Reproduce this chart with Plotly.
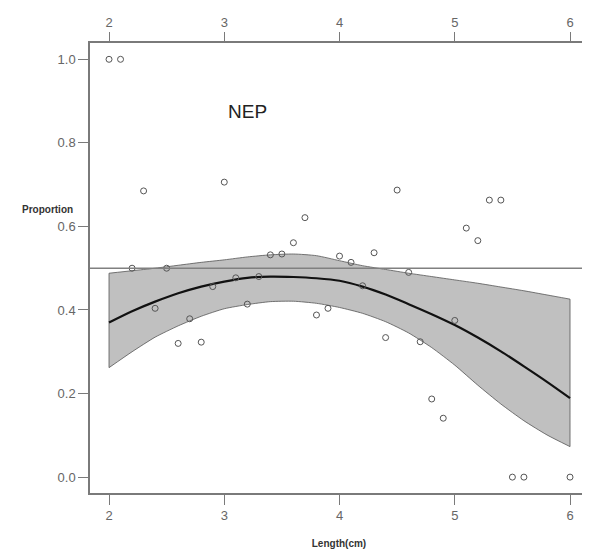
import plotly.graph_objects as go

# Observed proportions
length_obs = [2.0, 2.1, 2.2, 2.3, 2.4, 2.5, 2.6, 2.7, 2.8, 2.9, 3.0, 3.1, 3.2, 3.3, 3.4, 3.5, 3.6, 3.7, 3.8,
              3.9, 4.0, 4.1, 4.2, 4.3, 4.4, 4.5, 4.6, 4.7, 4.8, 4.9, 5.0, 5.1, 5.2, 5.3, 5.4, 5.5, 5.6, 6.0]
prop_obs = [1.0, 1.0, 0.5, 0.685, 0.404, 0.5, 0.32, 0.379, 0.323, 0.456, 0.706, 0.477, 0.414, 0.48, 0.532,
            0.534, 0.561, 0.621, 0.388, 0.404, 0.529, 0.514, 0.458, 0.537, 0.334, 0.687, 0.49, 0.324, 0.187,
            0.141, 0.375, 0.596, 0.566, 0.663, 0.663, 0.0, 0.0, 0.0]

# Fitted curve and confidence band
length_fit = [2.0, 2.2, 2.4, 2.6, 2.8, 3.0, 3.2, 3.4, 3.6, 3.8, 4.0, 4.2, 4.4, 4.6, 4.8, 5.0, 5.2, 5.4, 5.6, 5.8, 6.0]
fit = [0.37, 0.397, 0.42, 0.44, 0.456, 0.468, 0.477, 0.48, 0.479, 0.476, 0.47, 0.456, 0.437, 0.414, 0.39,
       0.364, 0.334, 0.301, 0.265, 0.228, 0.189]
upper = [0.488, 0.494, 0.5, 0.507, 0.514, 0.52, 0.527, 0.532, 0.534, 0.53, 0.518, 0.506, 0.497, 0.488, 0.48,
         0.472, 0.464, 0.455, 0.446, 0.436, 0.426]
lower = [0.262, 0.3, 0.335, 0.362, 0.385, 0.403, 0.413, 0.42, 0.421, 0.416, 0.406, 0.392, 0.372, 0.345, 0.31,
         0.268, 0.22, 0.175, 0.135, 0.101, 0.073]

x_ticks = [2, 3, 4, 5, 6]
y_ticks = [0.0, 0.2, 0.4, 0.6, 0.8, 1.0]
y_tick_labels = ["0.0", "0.2", "0.4", "0.6", "0.8", "1.0"]
ref_level = 0.5

axis_color = "#7a7a7a"
tick_font = dict(family="Liberation Sans Narrow, Arial Narrow, Liberation Sans, Arial", size=13, color="#666666")

fig = go.Figure()

fig.add_trace(go.Scatter(
    x=length_fit, y=lower, mode="lines",
    line=dict(color="#555555", width=0.8, shape="spline", smoothing=0.6), hoverinfo="skip", showlegend=False))
fig.add_trace(go.Scatter(
    x=length_fit, y=upper, mode="lines", fill="tonexty", fillcolor="#c0c0c0",
    line=dict(color="#555555", width=0.8, shape="spline", smoothing=0.6), hoverinfo="skip", showlegend=False))

# vertical closing edges of the band
fig.add_trace(go.Scatter(
    x=[length_fit[0], length_fit[0], None, length_fit[-1], length_fit[-1]],
    y=[lower[0], upper[0], None, upper[-1], lower[-1]], mode="lines",
    line=dict(color="#555555", width=0.8), hoverinfo="skip", showlegend=False))

fig.add_trace(go.Scatter(
    x=length_fit, y=fit, mode="lines", line=dict(color="#111111", width=2.2, shape="spline", smoothing=0.8),
    showlegend=False))

fig.add_trace(go.Scatter(
    x=length_obs, y=prop_obs, mode="markers",
    marker=dict(symbol="circle-open", size=6, color="#555555", line=dict(width=1)),
    showlegend=False))

# invisible trace for the top axis
fig.add_trace(go.Scatter(x=[x_ticks[0]], y=[ref_level], xaxis="x2", mode="markers",
                         marker=dict(opacity=0), hoverinfo="skip", showlegend=False))

fig.add_shape(type="line", xref="paper", x0=0, x1=1, yref="y", y0=ref_level, y1=ref_level,
              line=dict(color="#808080", width=1.6), layer="above")

fig.add_annotation(x=3.2, y=0.875, xref="x", yref="y", text="NEP", showarrow=False,
                   font=dict(family="Liberation Sans, Arial", size=19, color="#222222"))

fig.add_annotation(x=-0.086, y=0.629, xref="paper", yref="paper", text="<b>Proportion</b>", showarrow=False,
                   xanchor="center", yanchor="middle",
                   font=dict(family="Liberation Sans, Arial", size=10, color="#333333"))

xr = [1.835, 6.156]
yr = [-0.038, 1.039]

# page body has an 8px margin, so the figure is sized/offset to compensate
fig.update_layout(
    width=582, height=546,
    margin=dict(l=82, r=2, t=35, b=61, autoexpand=False),
    paper_bgcolor="white", plot_bgcolor="white",
    showlegend=False,
    xaxis=dict(range=xr, tickvals=x_ticks, ticks="outside", ticklen=10, tickcolor=axis_color,
               showline=True, linecolor=axis_color, linewidth=1.5, mirror=True, showgrid=False,
               zeroline=False, tickfont=tick_font, automargin=False,
               title=dict(text="<b>Length(cm)</b>", font=dict(family="Liberation Sans, Arial", size=10,
                                                              color="#333333"), standoff=18)),
    xaxis2=dict(range=xr, overlaying="x", side="top", matches="x", tickvals=x_ticks, ticks="outside",
                ticklen=10, tickcolor=axis_color, showline=False, showgrid=False, zeroline=False,
                tickfont=tick_font, automargin=False),
    yaxis=dict(range=yr, tickvals=y_ticks, ticktext=y_tick_labels, ticks="outside", ticklen=10,
               tickcolor=axis_color, showline=True, linecolor=axis_color, linewidth=1.5, mirror=True,
               showgrid=False, zeroline=False, tickfont=tick_font, automargin=False),
)

fig.write_html("out.html")
